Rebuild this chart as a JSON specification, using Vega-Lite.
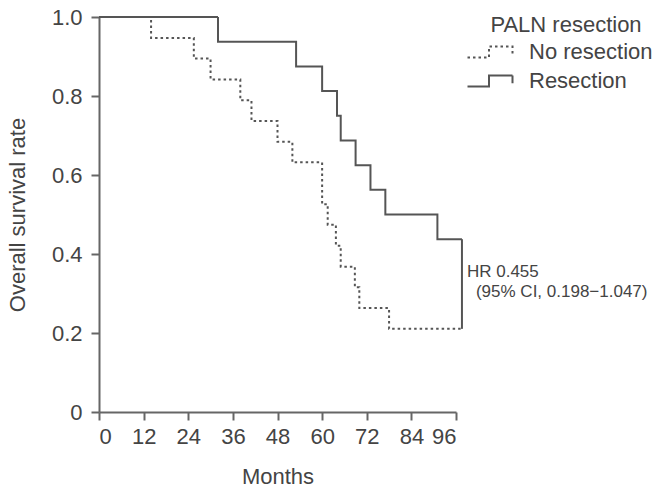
{
  "$schema": "https://vega.github.io/schema/vega-lite/v6.json",
  "width": 357,
  "height": 395,
  "autosize": {"type": "none"},
  "padding": {"left": 99, "top": 17, "right": 213, "bottom": 79},
  "background": "white",
  "config": {
    "view": {"stroke": null},
    "font": "Liberation Sans",
    "axis": {
      "grid": false,
      "domainColor": "#666666",
      "domainWidth": 2,
      "tickColor": "#666666",
      "tickWidth": 2,
      "tickSize": 8,
      "labelFont": "Liberation Sans",
      "labelFontSize": 22,
      "labelColor": "#444444",
      "titleFont": "Liberation Sans",
      "titleFontSize": 22,
      "titleFontWeight": "normal",
      "titleColor": "#444444"
    }
  },
  "datasets": {
    "km": [
      {"group": "No resection", "month": 0, "surv": 1.0},
      {"group": "No resection", "month": 14, "surv": 0.947},
      {"group": "No resection", "month": 25.5, "surv": 0.895},
      {"group": "No resection", "month": 30, "surv": 0.842},
      {"group": "No resection", "month": 38, "surv": 0.789},
      {"group": "No resection", "month": 41, "surv": 0.737},
      {"group": "No resection", "month": 48, "surv": 0.684},
      {"group": "No resection", "month": 52, "surv": 0.632},
      {"group": "No resection", "month": 60, "surv": 0.526},
      {"group": "No resection", "month": 61.5, "surv": 0.474},
      {"group": "No resection", "month": 63.7, "surv": 0.421},
      {"group": "No resection", "month": 65, "surv": 0.368},
      {"group": "No resection", "month": 68.8, "surv": 0.316},
      {"group": "No resection", "month": 70, "surv": 0.263},
      {"group": "No resection", "month": 78, "surv": 0.2105},
      {"group": "No resection", "month": 97.6, "surv": 0.2105},
      {"group": "Resection", "month": 0, "surv": 1.0},
      {"group": "Resection", "month": 32, "surv": 0.9375},
      {"group": "Resection", "month": 53, "surv": 0.875},
      {"group": "Resection", "month": 60, "surv": 0.8125},
      {"group": "Resection", "month": 64, "surv": 0.75},
      {"group": "Resection", "month": 65, "surv": 0.6875},
      {"group": "Resection", "month": 69, "surv": 0.625},
      {"group": "Resection", "month": 73, "surv": 0.5625},
      {"group": "Resection", "month": 77, "surv": 0.5},
      {"group": "Resection", "month": 91, "surv": 0.4375},
      {"group": "Resection", "month": 97.6, "surv": 0.4375}
    ],
    "hr": [
      {"month": 97.6, "lo": 0.2105, "hi": 0.4375, "hrText": "HR 0.455", "ciText": "(95% CI, 0.198−1.047)"}
    ]
  },
  "layer": [
    {
      "data": {"name": "km"},
      "mark": {"type": "line", "interpolate": "step-after", "strokeWidth": 2, "color": "#555555", "strokeCap": "butt"},
      "encoding": {
        "x": {
          "field": "month", "type": "quantitative",
          "scale": {"domain": [0, 96], "nice": false},
          "axis": {"values": [0, 12, 24, 36, 48, 60, 72, 84, 96], "title": "Months", "labelPadding": 6, "titlePadding": 19}
        },
        "y": {
          "field": "surv", "type": "quantitative",
          "scale": {"domain": [0, 1], "nice": false},
          "axis": {"values": [0, 0.2, 0.4, 0.6, 0.8, 1.0], "title": "Overall survival rate",
                   "labelExpr": "datum.value == 0 ? '0' : format(datum.value, '.1f')",
                   "labelPadding": 9, "titlePadding": 22}
        },
        "strokeDash": {
          "field": "group", "type": "nominal",
          "scale": {"domain": ["No resection", "Resection"], "range": [[2.5, 3], [1, 0]]},
          "legend": {
            "title": "PALN resection",
            "orient": "none",
            "legendX": 380,
            "legendY": -2,
            "titleFontSize": 22,
            "titleFontWeight": "normal",
            "titleColor": "#444444",
            "titleAnchor": "middle",
            "titlePadding": 4,
            "labelFontSize": 22,
            "labelColor": "#444444",
            "labelOffset": 28,
            "symbolType": "M-2.25,0.55H-0.1V-0.55H2.25V0.22",
            "symbolSize": 400,
            "symbolStrokeWidth": 2,
            "symbolStrokeColor": "#555555",
            "symbolFillColor": "transparent",
            "rowPadding": 7
          }
        }
      }
    },
    {
      "data": {"name": "hr"},
      "mark": {"type": "rule", "strokeWidth": 2, "color": "#555555"},
      "encoding": {
        "x": {"field": "month", "type": "quantitative"},
        "y": {"field": "lo", "type": "quantitative"},
        "y2": {"field": "hi"}
      }
    },
    {
      "data": {"name": "hr"},
      "mark": {"type": "text", "align": "left", "baseline": "alphabetic", "dx": 5, "dy": 38, "fontSize": 17, "color": "#444444"},
      "encoding": {
        "x": {"field": "month", "type": "quantitative"},
        "y": {"field": "hi", "type": "quantitative"},
        "text": {"field": "hrText"}
      }
    },
    {
      "data": {"name": "hr"},
      "mark": {"type": "text", "align": "left", "baseline": "alphabetic", "dx": 14, "dy": 58, "fontSize": 17, "color": "#444444"},
      "encoding": {
        "x": {"field": "month", "type": "quantitative"},
        "y": {"field": "hi", "type": "quantitative"},
        "text": {"field": "ciText"}
      }
    }
  ]
}
